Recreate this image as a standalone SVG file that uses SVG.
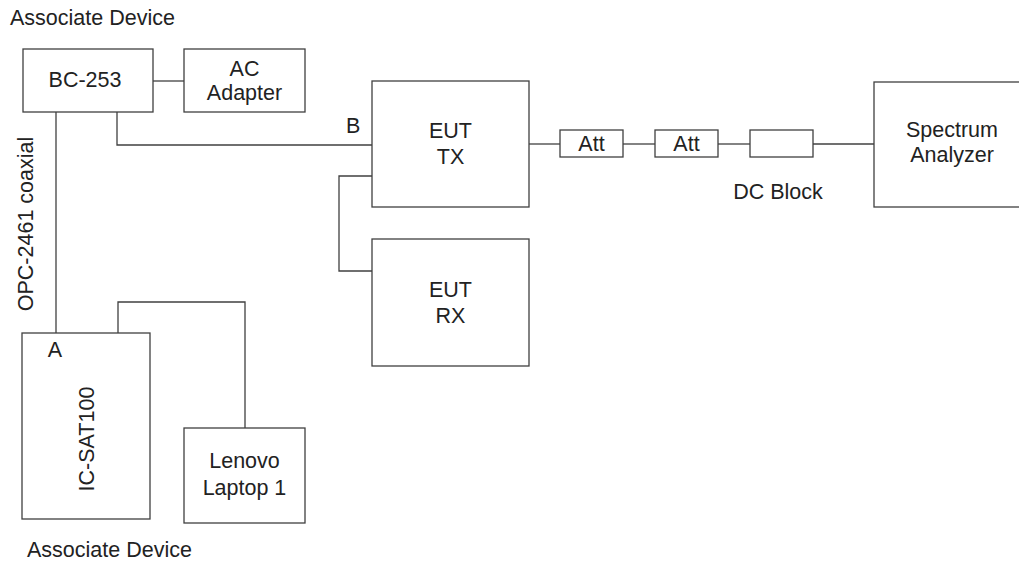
<svg xmlns="http://www.w3.org/2000/svg" width="1019" height="561" viewBox="0 0 1019 561">
<style>
.box{fill:#fff;stroke:#404040;stroke-width:1.3}
.ln{fill:none;stroke:#404040;stroke-width:1.3}
text{font-family:"Liberation Sans",Arial,sans-serif;font-size:21.5px;fill:#222}
.m{text-anchor:middle}
</style>
<rect width="1019" height="561" fill="#fff"/>
<g id="connectors">
<path class="ln" d="M153,81H184"/>
<path class="ln" d="M117,112V145H372"/>
<path class="ln" d="M56,112V333"/>
<path class="ln" d="M118,333V302H245V428"/>
<path class="ln" d="M372,176H339V271H372"/>
<path class="ln" d="M529,144H560"/>
<path class="ln" d="M623,144H655"/>
<path class="ln" d="M718,144H750"/>
<path class="ln" d="M813,144H874"/>
</g>
<g id="labels">
<text x="10" y="25">Associate Device</text>
<text x="27" y="557">Associate Device</text>
<text class="m" transform="translate(33,224) rotate(-90)">OPC-2461 coaxial</text>
<text x="346" y="133">B</text>
<text class="m" x="778" y="199">DC Block</text>
</g>
<g id="bc253">
<rect class="box" x="23" y="49" width="130" height="63"/>
<text class="m" x="85" y="87">BC-253</text>
</g>
<g id="acadapter">
<rect class="box" x="184" y="49" width="121" height="63"/>
<text class="m" x="244.5" y="76">AC</text>
<text class="m" x="244.5" y="100">Adapter</text>
</g>
<g id="euttx">
<rect class="box" x="372" y="81" width="157" height="126"/>
<text class="m" x="450.5" y="138">EUT</text>
<text class="m" x="450.5" y="164">TX</text>
</g>
<g id="eutrx">
<rect class="box" x="372" y="239" width="157" height="127"/>
<text class="m" x="450.5" y="297">EUT</text>
<text class="m" x="450.5" y="323">RX</text>
</g>
<g id="icsat100">
<rect class="box" x="22" y="333" width="128" height="186"/>
<text class="m" x="55" y="357">A</text>
<text class="m" transform="translate(94,439) rotate(-90)">IC-SAT100</text>
</g>
<g id="laptop">
<rect class="box" x="184" y="428" width="121" height="95"/>
<text class="m" x="244.5" y="468">Lenovo</text>
<text class="m" x="244.5" y="495">Laptop 1</text>
</g>
<g id="att1">
<rect class="box" x="560" y="130" width="63" height="27"/>
<text class="m" x="591.5" y="151">Att</text>
</g>
<g id="att2">
<rect class="box" x="655" y="130" width="63" height="27"/>
<text class="m" x="686.5" y="151">Att</text>
</g>
<g id="dcblock">
<rect class="box" x="750" y="130" width="63" height="27"/>
</g>
<g id="spectrum">
<rect class="box" x="874" y="82" width="160" height="125"/>
<text class="m" x="952" y="137">Spectrum</text>
<text class="m" x="952" y="162">Analyzer</text>
</g>
</svg>
